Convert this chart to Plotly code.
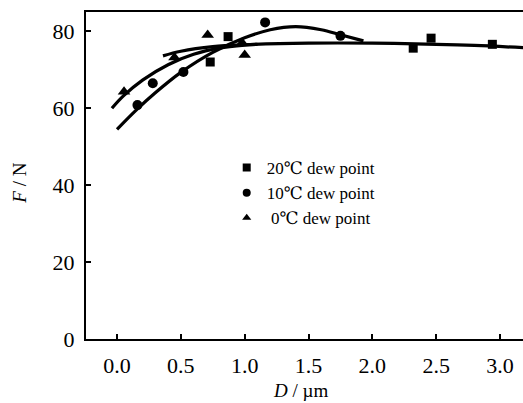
import plotly.graph_objects as go

# Measured points, D in µm and F in N
sq_x = [0.73, 0.87, 2.32, 2.46, 2.94]
sq_y = [72.0, 78.6, 75.6, 78.2, 76.6]

ci_x = [0.16, 0.28, 0.52, 1.16, 1.75]
ci_y = [60.8, 66.5, 69.4, 82.3, 78.8]

tr_x = [0.055, 0.45, 0.71, 0.98, 1.0]
tr_y = [64.3, 73.2, 79.0, 77.0, 73.8]

# Fitted trend lines
sq_fit_x = [0.36, 0.5, 0.75, 1.0, 1.5, 2.0, 2.5, 2.8, 3.2]
sq_fit_y = [73.6, 74.8, 76.0, 76.5, 76.9, 76.9, 76.6, 76.3, 75.7]

ci_fit_x = [0.0, 0.15, 0.3, 0.5, 0.75, 1.0, 1.2, 1.4, 1.6, 1.75, 1.93]
ci_fit_y = [54.5, 59.5, 64.0, 69.3, 74.5, 78.3, 80.4, 81.2, 80.4, 79.1, 77.5]

tr_fit_x = [-0.04, 0.05, 0.2, 0.4, 0.6, 0.8, 1.0, 1.1]
tr_fit_y = [60.0, 63.2, 67.3, 71.3, 74.0, 75.6, 76.4, 76.6]

legend_names = ["20℃ dew point", "10℃ dew point", " 0℃ dew point"]
legend_symbols = ["square", "circle", "triangle-up"]

x_ticks = [0.0, 0.5, 1.0, 1.5, 2.0, 2.5, 3.0]
y_ticks = [0, 20, 40, 60, 80]

SERIF = "Liberation Serif, DejaVu Serif, serif"
LINE = dict(color="black", width=3.2, shape="spline", smoothing=1.0)

fig = go.Figure()

for fx, fy in [(sq_fit_x, sq_fit_y), (ci_fit_x, ci_fit_y), (tr_fit_x, tr_fit_y)]:
    fig.add_trace(go.Scatter(x=fx, y=fy, mode="lines", line=LINE,
                             showlegend=False, hoverinfo="skip"))

fig.add_trace(go.Scatter(x=sq_x, y=sq_y, mode="markers", showlegend=False,
                         marker=dict(symbol="square", size=9, color="black")))
fig.add_trace(go.Scatter(x=ci_x, y=ci_y, mode="markers", showlegend=False,
                         marker=dict(symbol="circle", size=10, color="black")))
fig.add_trace(go.Scatter(x=tr_x, y=tr_y, mode="markers", showlegend=False,
                         marker=dict(symbol="triangle-up", size=11, color="black")))

# Legend entries with smaller key symbols
for name, sym, grp in zip(legend_names, legend_symbols, "abc"):
    fig.add_trace(go.Scatter(x=[None], y=[None], mode="markers", name=name,
                             legendgroup=grp,
                             marker=dict(symbol=sym, size=8, color="black")))

fig.update_layout(
    width=523, height=403,
    margin=dict(l=86, r=0, t=12, b=64),
    paper_bgcolor="white", plot_bgcolor="white",
    font=dict(family=SERIF, color="black", size=20),
    showlegend=True,
    legend=dict(x=0.322, y=0.578, xanchor="left", yanchor="top",
                bgcolor="rgba(0,0,0,0)", font=dict(size=17, family=SERIF),
                tracegroupgap=0, itemsizing="trace"),
    xaxis=dict(range=[-0.243, 3.18], tickvals=x_ticks,
               ticktext=[f"{v:.1f}" for v in x_ticks],
               showgrid=False, zeroline=False,
               showline=True, linecolor="black", linewidth=2, mirror=True,
               ticks="inside", ticklen=5, tickwidth=1.5, tickcolor="black",
               ticklabelstandoff=6,
               tickfont=dict(size=22, family=SERIF)),
    yaxis=dict(range=[0, 85], tickvals=y_ticks,
               showgrid=False, zeroline=False,
               showline=True, linecolor="black", linewidth=2, mirror=False,
               ticks="inside", ticklen=5, tickwidth=1.5, tickcolor="black",
               ticklabelstandoff=5,
               tickfont=dict(size=22, family=SERIF)),
    annotations=[
        dict(text="<i>F</i> / N", xref="paper", yref="paper",
             x=-0.151, y=0.475, textangle=-90, showarrow=False,
             xanchor="center", yanchor="middle",
             font=dict(size=19, family=SERIF)),
        dict(text="<i>D</i> / µm", xref="paper", yref="paper",
             x=0.49, y=-0.156, showarrow=False,
             xanchor="center", yanchor="middle",
             font=dict(size=19, family=SERIF)),
    ],
)

fig.write_html("out.html")
